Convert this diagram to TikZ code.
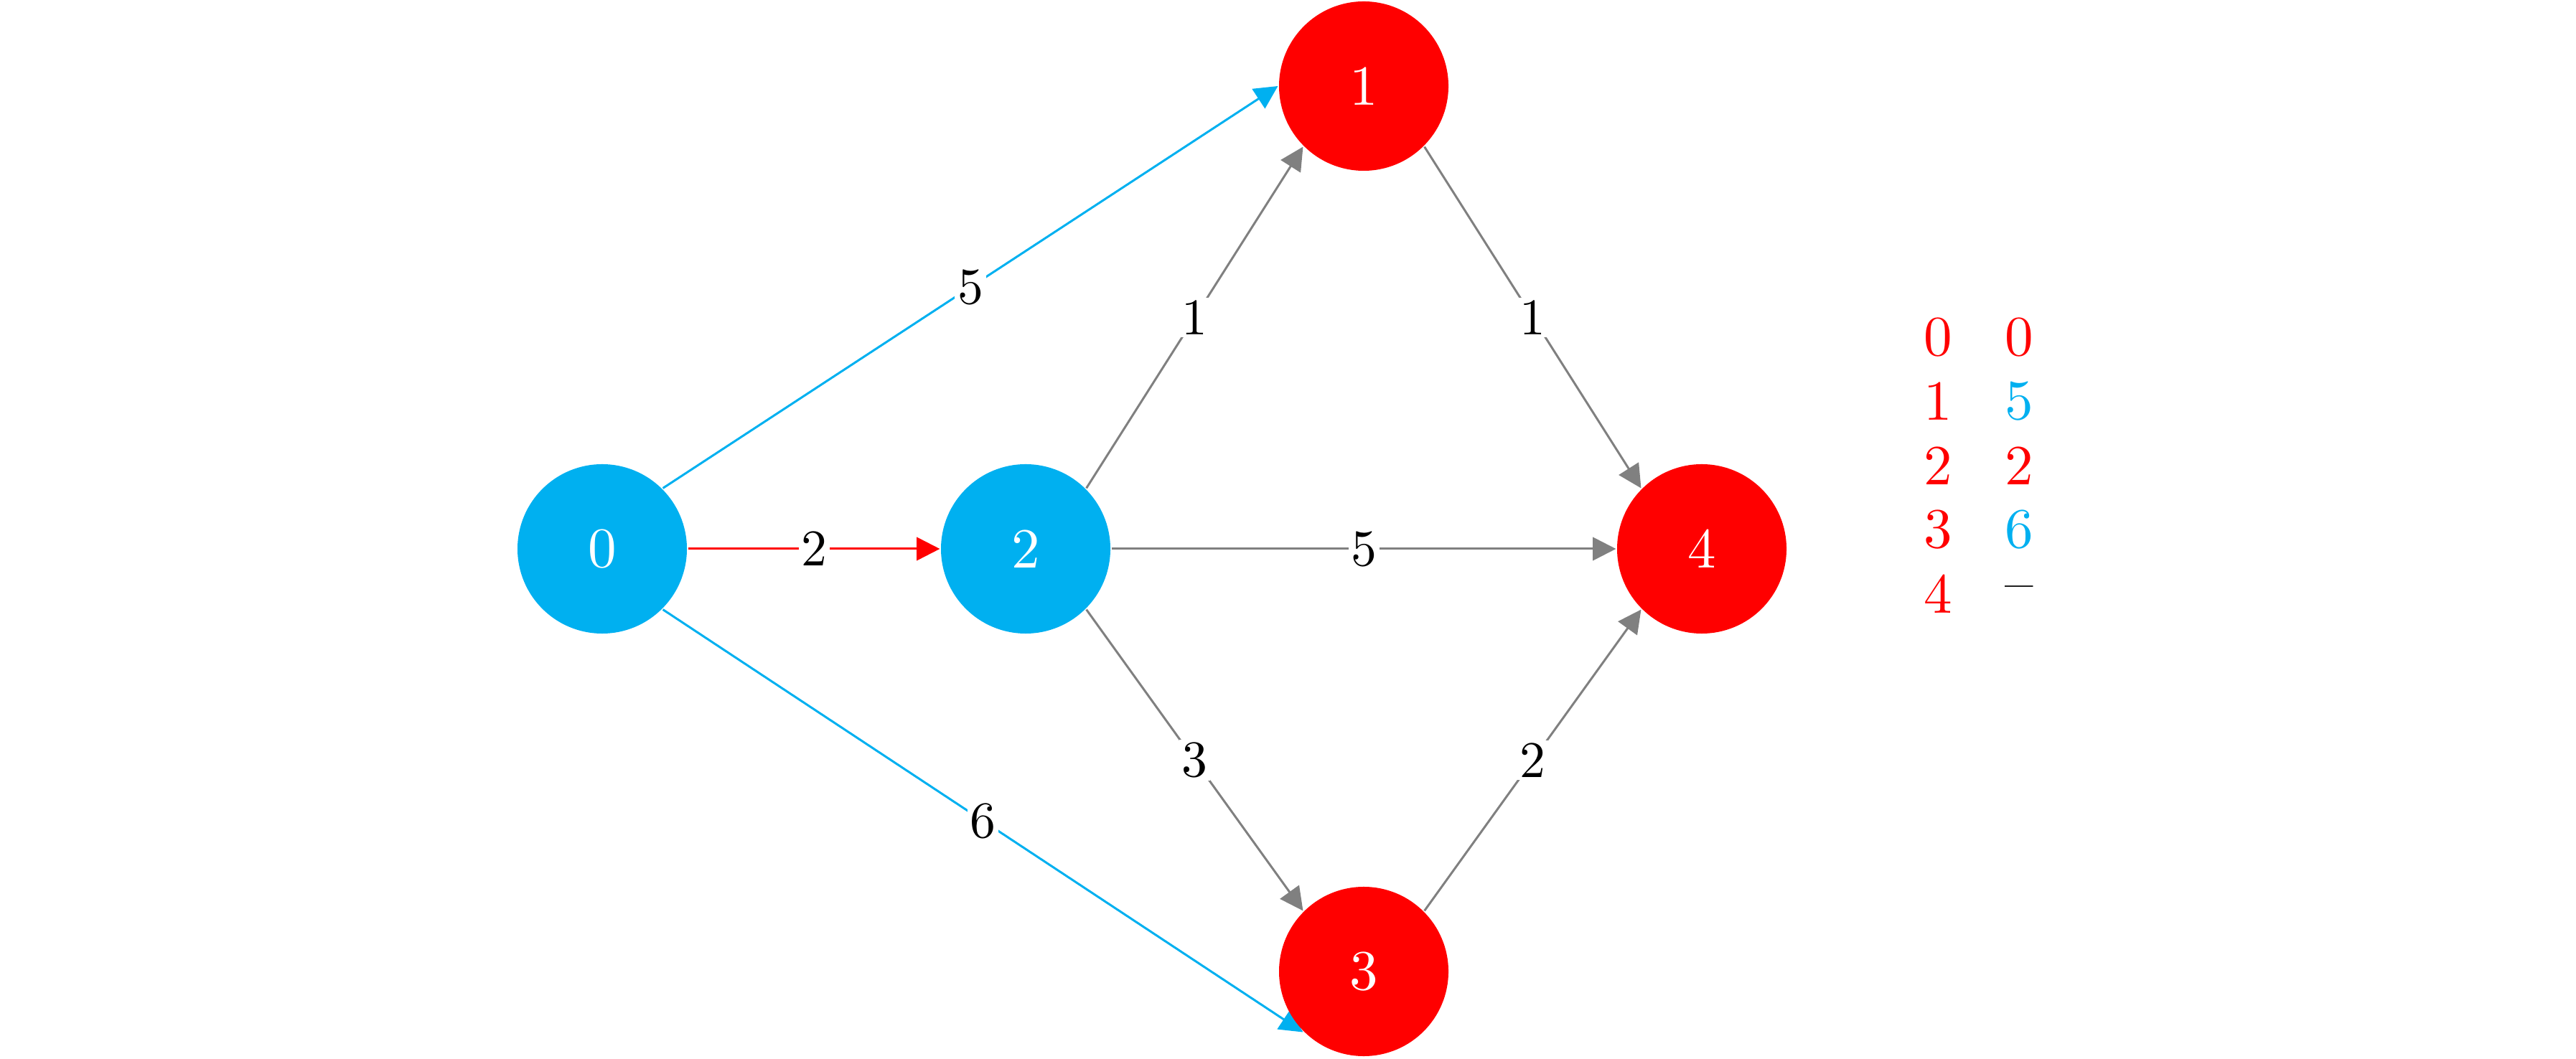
\documentclass[tikz,border=0pt]{standalone}
\usepackage{amsmath}
\usepackage{amssymb}
\usepackage{tikz}
\usetikzlibrary{arrows.meta, backgrounds}

\definecolor{vblue}{RGB}{0,176,240}
\definecolor{vred}{RGB}{255,0,0}
\definecolor{egray}{RGB}{128,128,128}

\begin{document}
\begin{tikzpicture}[
vertex/.style={circle, minimum size=1.049cm, inner sep=0pt, text=white, transform shape, scale=2.25},
arc/.style={-{Triangle[length=9.2pt, width=9.2pt]}, line width=0.85pt},
wt/.style={fill=white, inner sep=0.5pt, text=black, transform shape, scale=2.04},
tab/.style={transform shape, scale=2.25}]
\useasboundingbox (0,0) rectangle (35.89,14.75);
\node[vertex, fill=vblue] (n0) at (8.39,7.10) {0};
\node[vertex, fill=vblue] (n2) at (14.29,7.10) {2};
\node[vertex, fill=vred] (n1) at (19.00,13.55) {1};
\node[vertex, fill=vred] (n3) at (19.00,1.21) {3};
\node[vertex, fill=vred] (n4) at (23.71,7.10) {4};
\begin{scope}[on background layer]
\draw[arc, vblue] (n0.north east)--(n1.west) node[wt, midway] (w01) {5};
\draw[arc, vblue] (n0.south east)--(n3.south west) node[wt, midway] (w03) {6};
\draw[arc, vred] (n0.east)--(n2.west) node[wt, midway] (w02) {2};
\draw[arc, egray] (n2.north east)--(n1.south west) node[wt, midway] (w21) {1};
\draw[arc, egray] (n2.east)--(n4.west) node[wt, midway] (w24) {5};
\draw[arc, egray] (n2.south east)--(n3.north west) node[wt, midway] (w23) {3};
\draw[arc, egray] (n1.south east)--(n4.north west) node[wt, midway] (w14) {1};
\draw[arc, egray] (n3.north east)--(n4.south west) node[wt, midway] (w34) {2};
\end{scope}
\foreach \i/\d/\dc in {0/0/vred, 1/5/vblue, 2/2/vred, 3/6/vblue, 4/\raisebox{-1.4pt}{--}/black}
{
\node[tab, text=vred] (k\i) at (27.00,10.05-0.895*\i) {\i};
\node[tab, text=\dc] (d\i) at (28.13,10.05-0.895*\i) {\d};
}
\end{tikzpicture}
\end{document}
